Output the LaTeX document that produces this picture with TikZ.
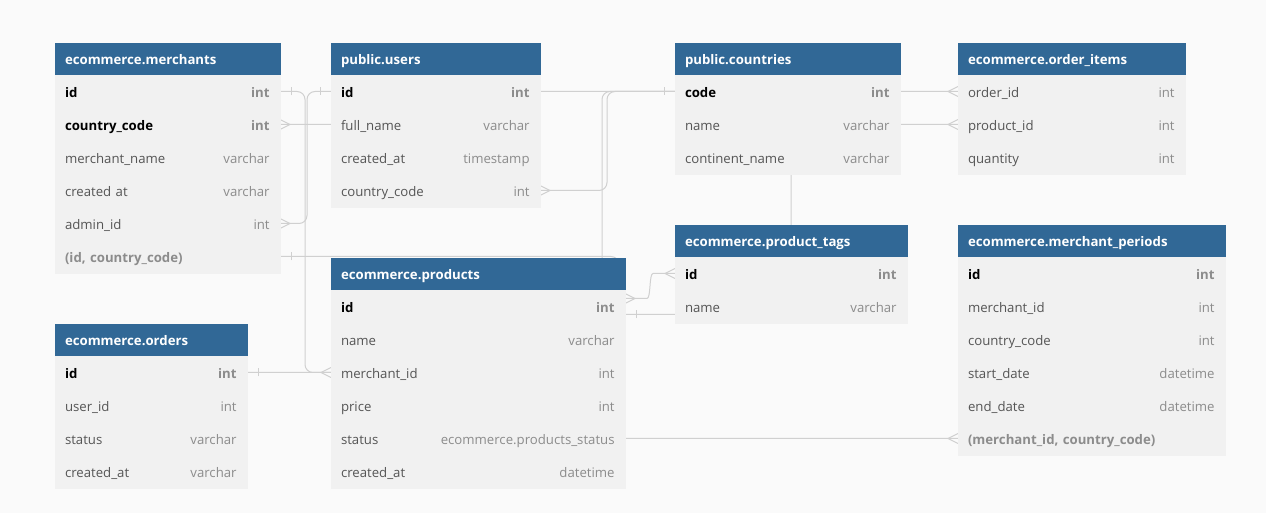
\documentclass[tikz,border=0pt]{standalone}
\usepackage{fontspec}
\setmainfont{Open Sans}
\usetikzlibrary{positioning, backgrounds, calc}

\definecolor{headblue}{HTML}{316896}
\definecolor{rowgray}{HTML}{F1F1F1}
\definecolor{pagebg}{HTML}{FAFAFA}
\definecolor{fieldtext}{HTML}{555555}
\definecolor{typegray}{HTML}{8C8C8C}
\definecolor{linkgray}{HTML}{D0D0D0}

\tikzset{
    tabw/.style={},
    tablehead/.style={
        rectangle,
        fill=headblue,
        draw=headblue, line width=0.4pt,
        text=white,
        anchor=north west,
        minimum height=16pt,
        inner xsep=5pt, inner ysep=0pt, outer sep=0pt,
        align=left,
        text height=1.55ex, text depth=.45ex,
        font=\fontsize{6.6}{8}\selectfont\bfseries,
        tabw
    },
    fieldrow/.style={
        rectangle,
        fill=rowgray,
        draw=rowgray, line width=0.4pt,
        text=fieldtext,
        minimum height=16.5pt,
        inner xsep=5pt, inner ysep=0pt, outer sep=0pt,
        align=left,
        text height=1.55ex, text depth=.45ex,
        font=\fontsize{6.6}{8}\selectfont,
        tabw
    },
    typetext/.style={
        anchor=east, xshift=-5pt, inner sep=0pt,
        text=typegray,
        text height=1.55ex, text depth=.45ex,
        font=\fontsize{6.6}{8}\selectfont
    },
    ftype/.style={label={[typetext]east:#1}},
    pkrow/.style={
        fieldrow,
        text=black,
        font=\fontsize{6.6}{8}\selectfont\bfseries,
        label={[typetext, font=\fontsize{6.6}{8}\selectfont\bfseries]east:#1}
    },
    idxrow/.style={
        fieldrow,
        text=typegray,
        font=\fontsize{6.6}{8}\selectfont\bfseries
    },
    linkline/.style={draw=linkgray, line width=0.5pt, rounded corners=4pt},
    crowfoot/.pic={\draw[linkgray, line width=0.5pt] (-10,0) -- (0,5) (-10,0) -- (0,-5);},
    onebar/.pic={\draw[linkgray, line width=0.5pt] (-11,-4) -- (-11,4);}
}

\begin{document}
\begin{tikzpicture}[x=0.5pt, y=-0.5pt]
\useasboundingbox (0,0) rectangle (1266,513);

% ecommerce.merchants
\begin{scope}[tabw/.style={text width=102.5pt}]
\node[tablehead] (mer-h) at (55,43) {ecommerce.merchants};
\node[pkrow=int, below=0pt of mer-h] (mer-id) {id};
\node[pkrow=int, below=0pt of mer-id] (mer-cc) {country\_code};
\node[fieldrow, ftype=varchar, below=0pt of mer-cc] (mer-name) {merchant\_name};
\node[fieldrow, ftype=varchar, below=0pt of mer-name] (mer-cat) {created at};
\node[fieldrow, ftype=int, below=0pt of mer-cat] (mer-adm) {admin\_id};
\node[idxrow, below=0pt of mer-adm] (mer-idx) {(id, country\_code)};
\end{scope}

% public.users
\begin{scope}[tabw/.style={text width=94.5pt}]
\node[tablehead] (usr-h) at (331,43) {public.users};
\node[pkrow=int, below=0pt of usr-h] (usr-id) {id};
\node[fieldrow, ftype=varchar, below=0pt of usr-id] (usr-name) {full\_name};
\node[fieldrow, ftype=timestamp, below=0pt of usr-name] (usr-cat) {created\_at};
\node[fieldrow, ftype=int, below=0pt of usr-cat] (usr-cc) {country\_code};
\end{scope}

% public.countries
\begin{scope}[tabw/.style={text width=102.5pt}]
\node[tablehead] (cty-h) at (675,43) {public.countries};
\node[pkrow=int, below=0pt of cty-h] (cty-code) {code};
\node[fieldrow, ftype=varchar, below=0pt of cty-code] (cty-name) {name};
\node[fieldrow, ftype=varchar, below=0pt of cty-name] (cty-cont) {continent\_name};
\end{scope}

% ecommerce.order_items
\begin{scope}[tabw/.style={text width=103.5pt}]
\node[tablehead] (oit-h) at (958,43) {ecommerce.order\_items};
\node[fieldrow, ftype=int, below=0pt of oit-h] (oit-oid) {order\_id};
\node[fieldrow, ftype=int, below=0pt of oit-oid] (oit-pid) {product\_id};
\node[fieldrow, ftype=int, below=0pt of oit-pid] (oit-qty) {quantity};
\end{scope}

% ecommerce.product_tags
\begin{scope}[tabw/.style={text width=106pt}]
\node[tablehead] (tag-h) at (675,225) {ecommerce.product\_tags};
\node[pkrow=int, below=0pt of tag-h] (tag-id) {id};
\node[fieldrow, ftype=varchar, below=0pt of tag-id] (tag-name) {name};
\end{scope}

% ecommerce.merchant_periods
\begin{scope}[tabw/.style={text width=123.5pt}]
\node[tablehead] (mpr-h) at (958,225) {ecommerce.merchant\_periods};
\node[pkrow=int, below=0pt of mpr-h] (mpr-id) {id};
\node[fieldrow, ftype=int, below=0pt of mpr-id] (mpr-mid) {merchant\_id};
\node[fieldrow, ftype=int, below=0pt of mpr-mid] (mpr-cc) {country\_code};
\node[fieldrow, ftype=datetime, below=0pt of mpr-cc] (mpr-start) {start\_date};
\node[fieldrow, ftype=datetime, below=0pt of mpr-start] (mpr-end) {end\_date};
\node[idxrow, below=0pt of mpr-end] (mpr-idx) {(merchant\_id, country\_code)};
\end{scope}

% ecommerce.products
\begin{scope}[tabw/.style={text width=137pt}]
\node[tablehead] (prd-h) at (331,258) {ecommerce.products};
\node[pkrow=int, below=0pt of prd-h] (prd-id) {id};
\node[fieldrow, ftype=varchar, below=0pt of prd-id] (prd-name) {name};
\node[fieldrow, ftype=int, below=0pt of prd-name] (prd-mid) {merchant\_id};
\node[fieldrow, ftype=int, below=0pt of prd-mid] (prd-price) {price};
\node[fieldrow, ftype=ecommerce.products\_status, below=0pt of prd-price] (prd-status) {status};
\node[fieldrow, ftype=datetime, below=0pt of prd-status] (prd-cat) {created\_at};
\end{scope}

% ecommerce.orders
\begin{scope}[tabw/.style={text width=86pt}]
\node[tablehead] (ord-h) at (55,324) {ecommerce.orders};
\node[pkrow=int, below=0pt of ord-h] (ord-id) {id};
\node[fieldrow, ftype=int, below=0pt of ord-id] (ord-uid) {user\_id};
\node[fieldrow, ftype=varchar, below=0pt of ord-uid] (ord-status) {status};
\node[fieldrow, ftype=varchar, below=0pt of ord-status] (ord-cat) {created\_at};
\end{scope}

% references, behind the tables
\begin{scope}[on background layer]
\fill[pagebg] (0,0) rectangle (1266,513);
\draw[linkline] (mer-id.east) -- ++(25,0) |- (prd-mid.west);
\draw[linkline] (usr-id.west) -- ++(-24,0) |- (mer-adm.east);
\draw[linkline] (mer-cc.east) -- ++(198,0) |- (cty-code.west);
\draw[linkline] (usr-cc.east) -- ++(67,0) |- (cty-code.west);
\draw[linkline] (ord-id.east) -- ++(355,0) |- (oit-oid.west);
\draw[linkline] ([yshift=-4pt]prd-id.east) -- ++(166,0) |- (oit-pid.west);
\draw[linkline] ([yshift=4pt]prd-id.east) -- ++(14,0) .. controls +(12,0) and +(-12,0) .. ([xshift=-7pt]tag-id.west) -- (tag-id.west);
\draw[linkline] (mer-idx.east) -- ++(339,0) |- (mpr-idx.west);

\pic[rotate=180] at (mer-id.east) {onebar};
\pic at (usr-id.west) {onebar};
\pic at (cty-code.west) {onebar};
\pic[rotate=180] at (ord-id.east) {onebar};
\pic[rotate=180] at ([yshift=-4pt]prd-id.east) {onebar};
\pic[rotate=180] at (mer-idx.east) {onebar};

\pic at (prd-mid.west) {crowfoot};
\pic[rotate=180] at (mer-adm.east) {crowfoot};
\pic[rotate=180] at (mer-cc.east) {crowfoot};
\pic[rotate=180] at (usr-cc.east) {crowfoot};
\pic at (oit-oid.west) {crowfoot};
\pic at (oit-pid.west) {crowfoot};
\pic[rotate=180] at ([yshift=4pt]prd-id.east) {crowfoot};
\pic at (tag-id.west) {crowfoot};
\pic at (mpr-idx.west) {crowfoot};
\end{scope}

\end{tikzpicture}
\end{document}
